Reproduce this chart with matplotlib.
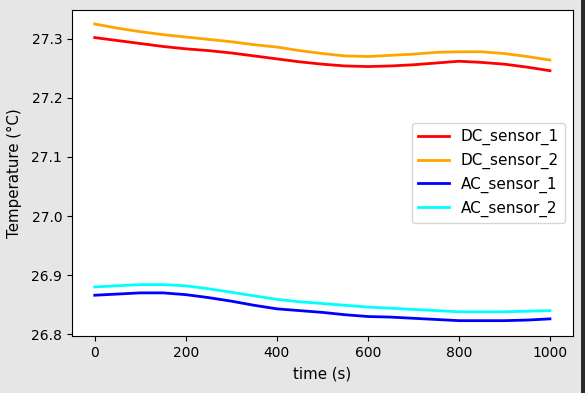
import matplotlib.pyplot as plt
from matplotlib.patches import Rectangle

# readings every 50 s
time_s = [0, 50, 100, 150, 200, 250, 300, 350, 400, 450, 500,
          550, 600, 650, 700, 750, 800, 850, 900, 950, 1000]
dc_sensor_1 = [27.302, 27.297, 27.292, 27.287, 27.283, 27.280, 27.276, 27.271, 27.266, 27.261, 27.257,
               27.254, 27.253, 27.254, 27.256, 27.259, 27.262, 27.260, 27.257, 27.252, 27.246]
dc_sensor_2 = [27.325, 27.318, 27.312, 27.307, 27.303, 27.299, 27.295, 27.290, 27.286, 27.280, 27.275,
               27.271, 27.270, 27.272, 27.274, 27.277, 27.278, 27.278, 27.275, 27.270, 27.264]
ac_sensor_1 = [26.866, 26.868, 26.870, 26.870, 26.867, 26.862, 26.856, 26.849, 26.843, 26.840, 26.837,
               26.833, 26.830, 26.829, 26.827, 26.825, 26.823, 26.823, 26.823, 26.824, 26.826]
ac_sensor_2 = [26.880, 26.882, 26.884, 26.884, 26.882, 26.877, 26.871, 26.865, 26.859, 26.855, 26.852,
               26.849, 26.846, 26.844, 26.842, 26.840, 26.838, 26.838, 26.838, 26.839, 26.840]

fig = plt.figure(figsize=(5.85, 3.93), dpi=100, facecolor='#e6e6e6')
ax = fig.add_axes([0.123, 0.145, 0.856, 0.830])

ax.plot(time_s, dc_sensor_1, color='red', lw=2, label='DC_sensor_1')
ax.plot(time_s, dc_sensor_2, color='orange', lw=2, label='DC_sensor_2')
ax.plot(time_s, ac_sensor_1, color='blue', lw=2, label='AC_sensor_1')
ax.plot(time_s, ac_sensor_2, color='cyan', lw=2, label='AC_sensor_2')

ax.set_ylim(26.797, 27.349)
ax.set_yticks([26.8, 26.9, 27.0, 27.1, 27.2, 27.3])
ax.set_xlabel('time (s)', fontsize=10.8, labelpad=5)
ax.set_ylabel('Temperature (°C)', fontsize=10.8, labelpad=7)
ax.legend(loc='center right', fontsize=11)

# dark edge on the right of the screenshot
fig.add_artist(Rectangle((581 / 585, 0), 4 / 585, 1, transform=fig.transFigure,
                         color='#2b2b2b', lw=0))

fig.savefig('out.png', facecolor=fig.get_facecolor())
